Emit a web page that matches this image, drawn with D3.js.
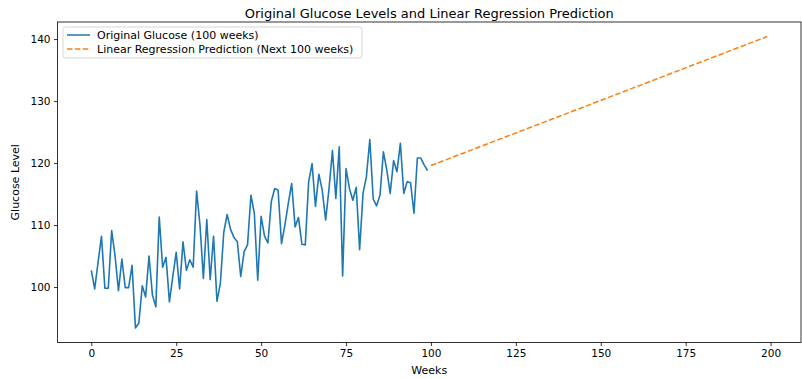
<!DOCTYPE html>
<html>
<head>
<meta charset="utf-8">
<script src="https://cdn.jsdelivr.net/npm/d3@7"></script>
<style>
  html, body { margin: 0; padding: 0; background: #fff; }
  svg { display: block; font-family: "DejaVu Sans", sans-serif; }
</style>
</head>
<body>
<svg id="chart" width="802" height="379"></svg>
<script>
// Weekly glucose readings, weeks 0..99
const glucose = [
  102.7, 99.7, 104.0, 108.2, 99.8, 99.8, 109.1, 105.0, 99.4, 104.5,
  99.9, 99.9, 103.5, 93.4, 94.2, 100.2, 98.4, 105.0, 98.7, 96.8,
  111.3, 103.2, 104.8, 97.6, 101.7, 105.6, 99.7, 107.3, 102.7, 104.4,
  103.2, 115.5, 110.0, 101.4, 110.9, 101.2, 108.2, 97.7, 100.6, 108.8,
  111.7, 109.3, 108.0, 107.3, 101.7, 105.7, 106.8, 114.8, 111.9, 101.1,
  111.4, 108.2, 107.1, 113.8, 115.9, 115.6, 107.0, 110.0, 113.5, 116.7,
  109.7, 111.2, 106.9, 106.8, 117.0, 119.9, 113.0, 118.2, 115.6, 110.8,
  115.9, 122.0, 114.3, 122.6, 101.8, 119.1, 115.9, 114.0, 116.1, 106.0,
  115.1, 117.8, 123.8, 114.2, 113.1, 114.8, 121.8, 118.9, 115.1, 120.4,
  118.6, 123.2, 115.1, 117.0, 116.8, 111.9, 120.8, 120.8, 119.7, 118.8
];

// Straight-line prediction for weeks 100..199 (endpoints)
const predWeeks = [100, 199];
const predValues = [119.6, 140.4];

const xTicks = [0, 25, 50, 75, 100, 125, 150, 175, 200];
const yTicks = [100, 110, 120, 130, 140];

const seriesNames = ["Original Glucose (100 weeks)", "Linear Regression Prediction (Next 100 weeks)"];
const colors = ["#1f77b4", "#ff7f0e"];

const svg = d3.select("#chart");
const plotL = 57.5, plotR = 801, plotT = 22, plotB = 342.5;

const x = d3.scaleLinear().domain([-9.95, 208.95]).range([plotL, plotR]);
const y = d3.scaleLinear().domain([91.05, 142.75]).range([plotB, plotT]);

// axes
const xAxis = svg.append("g")
  .attr("transform", `translate(0,${plotB})`)
  .call(d3.axisBottom(x).tickValues(xTicks).tickSize(3.5).tickPadding(3.5).tickFormat(d3.format("d")));
const yAxis = svg.append("g")
  .attr("transform", `translate(${plotL},0)`)
  .call(d3.axisLeft(y).tickValues(yTicks).tickSize(3.5).tickPadding(3.5).tickFormat(d3.format("d")));
[xAxis, yAxis].forEach(g => {
  g.select(".domain").remove();
  g.selectAll(".tick line").attr("stroke", "#000").attr("stroke-width", 0.8);
  g.selectAll(".tick text").attr("font-size", 10.5).attr("fill", "#000")
    .attr("font-family", "DejaVu Sans, sans-serif");
});

// frame
svg.append("rect")
  .attr("x", plotL).attr("y", plotT)
  .attr("width", plotR - plotL).attr("height", plotB - plotT)
  .attr("fill", "none").attr("stroke", "#000").attr("stroke-width", 0.8);

// series
const line = d3.line().x(d => x(d[0])).y(d => y(d[1]));
svg.append("path")
  .datum(glucose.map((v, i) => [i, v]))
  .attr("d", line)
  .attr("fill", "none").attr("stroke", colors[0]).attr("stroke-width", 1.6)
  .attr("stroke-linejoin", "round");
svg.append("path")
  .datum(predWeeks.map((w, i) => [w, predValues[i]]))
  .attr("d", line)
  .attr("fill", "none").attr("stroke", colors[1]).attr("stroke-width", 1.5)
  .attr("stroke-dasharray", "5.5,2.4");

// titles
svg.append("text")
  .attr("x", (plotL + plotR) / 2).attr("y", 17.5)
  .attr("text-anchor", "middle").attr("font-size", 13)
  .text("Original Glucose Levels and Linear Regression Prediction");
svg.append("text")
  .attr("x", (plotL + plotR) / 2).attr("y", 374)
  .attr("text-anchor", "middle").attr("font-size", 11)
  .text("Weeks");
svg.append("text")
  .attr("transform", `translate(19,${(plotT + plotB) / 2}) rotate(-90)`)
  .attr("text-anchor", "middle").attr("font-size", 11)
  .text("Glucose Level");

// legend
const lg = svg.append("g").attr("transform", "translate(63,27)");
lg.append("rect")
  .attr("width", 299).attr("height", 31).attr("rx", 2.5)
  .attr("fill", "#fff").attr("fill-opacity", 0.8)
  .attr("stroke", "#cccccc").attr("stroke-width", 0.8);
seriesNames.forEach((name, i) => {
  const yy = 8 + i * 14;
  lg.append("line")
    .attr("x1", 4).attr("x2", 27).attr("y1", yy).attr("y2", yy)
    .attr("stroke", colors[i]).attr("stroke-width", 1.5)
    .attr("stroke-dasharray", i === 1 ? "5.5,2.4" : null);
  lg.append("text")
    .attr("x", 34).attr("y", yy + 4).attr("font-size", 11)
    .text(name);
});
</script>
</body>
</html>
